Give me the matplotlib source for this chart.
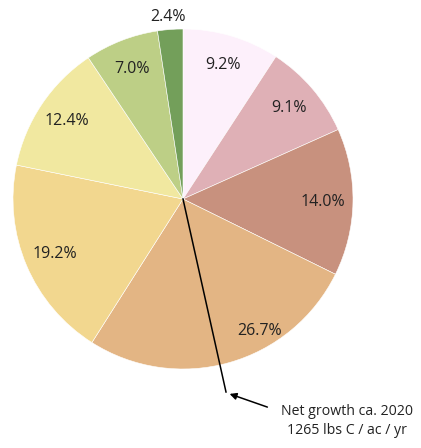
import matplotlib.pyplot as plt

shares = [9.2, 9.1, 14.0, 26.7, 19.2, 12.4, 7.0, 2.4]
colors = ['#FDF0FB', '#DFB0B6', '#C8917E', '#E3B584',
          '#F2D78F', '#F1E8A0', '#BDCF86', '#739F5A']
note = 'Net growth ca. 2020\n1265 lbs C / ac / yr'

plt.rcParams['font.family'] = ['Open Sans', 'DejaVu Sans']

fig = plt.figure(figsize=(4.21, 4.48), dpi=100)
ax = fig.add_axes([0, 0, 1, 1])

cx, cy, r = 183, 249, 170
wedges, texts, autotexts = ax.pie(
    shares, colors=colors, startangle=90, counterclock=False,
    center=(cx, cy), radius=r, autopct='%.1f%%', pctdistance=0.82,
    wedgeprops=dict(linewidth=0.4, edgecolor='white'),
    textprops=dict(fontsize=11.5, color='#222222'), frame=True)
ax.set_xlim(0, 421)
ax.set_ylim(0, 448)
ax.set_aspect('equal')
ax.axis('off')

# hand-placed labels for the two slices that sit off the default radius
autotexts[3].set_position((260, 448 - 331))
autotexts[7].set_position((168, 448 - 17))

# leader line from the centre, then the arrow from the note
ax.plot([cx, 226], [cy, 448 - 392], color='black', lw=1.1)
ax.annotate('', xy=(227, 448 - 393), xytext=(270, 448 - 408),
            arrowprops=dict(arrowstyle='-|>', color='black', lw=1.1,
                            mutation_scale=10))
ax.text(347, 448 - 421, note, ha='center', va='center', fontsize=10.2,
        color='#222222', linespacing=1.3)

fig.savefig('out.png', dpi=100)
